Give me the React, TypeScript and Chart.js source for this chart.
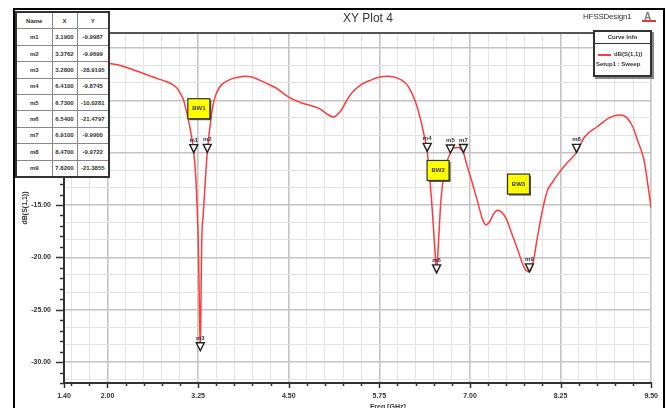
import React, { useEffect, useRef } from "react";
import { Chart, registerables } from "chart.js";
Chart.register(...registerables);

const FONT = "'Liberation Sans', Arial, sans-serif";

// S11 curve (frequency in GHz, value in dB)
const freqGHz = [
  2.0, 2.1, 2.2, 2.34, 2.46, 2.58, 2.7, 2.81, 2.9, 2.96, 3.01, 3.05, 3.08, 3.11, 3.14, 3.17,
  3.19, 3.22, 3.25, 3.265, 3.28, 3.29, 3.3, 3.32, 3.35, 3.3762, 3.43, 3.47, 3.54, 3.68, 3.8,
  3.91, 4.0, 4.09, 4.2, 4.32, 4.5, 4.68, 4.8, 4.91, 5.05, 5.12, 5.18, 5.23, 5.3, 5.37, 5.5,
  5.64, 5.74, 5.87, 6.01, 6.1, 6.15, 6.24, 6.31, 6.36, 6.41, 6.44, 6.47, 6.5, 6.52, 6.54,
  6.56, 6.6, 6.65, 6.68, 6.73, 6.77, 6.83, 6.91, 6.95, 7.02, 7.11, 7.17, 7.22, 7.27, 7.33,
  7.38, 7.44, 7.5, 7.56, 7.66, 7.75, 7.82, 7.87, 7.93, 8.0, 8.07, 8.14, 8.21, 8.35, 8.47,
  8.58, 8.76, 8.94, 9.07, 9.17, 9.25, 9.31, 9.4, 9.5,
];
const s11dB = [
  -1.44, -1.55, -1.72, -2.05, -2.35, -2.65, -2.95, -3.2, -3.5, -3.85, -4.4, -5.0, -5.8, -6.7, -7.7, -8.9,
  -9.9987, -12.6, -18.0, -23.4, -28.9195, -24.0, -18.4, -16.0, -12.6, -9.9699, -6.6, -5.0, -3.8, -3.05, -2.8,
  -2.7, -2.8, -3.05, -3.4, -3.8, -4.7, -5.25, -5.5, -5.75, -6.4, -6.6, -6.3, -5.9, -5.0, -4.3, -3.5,
  -3.05, -2.8, -2.7, -2.9, -3.3, -3.7, -5.0, -6.6, -8.1, -9.8745, -12.0, -14.5, -17.5, -19.6, -21.4797,
  -19.3, -14.5, -11.7, -10.9, -10.0281, -9.55, -9.5, -9.99, -11.0, -12.6, -14.8, -16.3, -16.9, -16.6, -15.8,
  -15.5, -15.7, -16.3, -17.4, -19.3, -21.0, -21.3855, -20.5, -18.1, -15.5, -13.6, -12.8, -12.1, -10.9, -9.9722,
  -8.5, -7.5, -6.6, -6.4, -6.7, -7.6, -8.8, -10.7, -15.3,
];

// Markers
const markerNames = ["m1", "m2", "m3", "m4", "m5", "m6", "m7", "m8", "m9"];
const markerX = [3.19, 3.3762, 3.28, 6.41, 6.73, 6.54, 6.91, 8.47, 7.82];
const markerY = [-9.9987, -9.9699, -28.9195, -9.8745, -10.0281, -21.4797, -9.99, -9.9722, -21.3855];

// Axis labels
const xLabelValues = [1.4, 2.0, 3.25, 4.5, 5.75, 7.0, 8.25, 9.5];
const yLabelValues = [-30, -25, -20, -15, -10, -5, 0];

// Band annotations
const bwNames = ["BW1", "BW2", "BW3"];
const bwAnchorX = [3.26, 6.56, 7.67];
const bwAnchorY = [-5.8, -11.7, -13.0];

const near = (a: number, b: number) => Math.abs(a - b) < 1e-6;
const isMult = (v: number, s: number) => near(v / s, Math.round(v / s));

const xTickValues: number[] = [1.4];
for (let k = 6; k <= 38; k++) xTickValues.push(k * 0.25);
const yTickValues: number[] = [];
for (let v = -32; v <= 1; v++) yTickValues.push(v);
for (let k = -19; k <= 0; k++) {
  const v = (k * 5) / 3;
  if (!yTickValues.some((t) => near(t, v))) yTickValues.push(v);
}
yTickValues.sort((a, b) => a - b);

const isXMajor = (v: number) => v >= 2 - 1e-6 && isMult(v - 2, 1.25);

const overlayPlugin = {
  id: "overlay",
  afterDraw(chart: any) {
    const { ctx, chartArea: a } = chart;
    const xs = chart.scales.x;
    const ys = chart.scales.y;
    ctx.save();
    // top border of plot
    ctx.strokeStyle = "#555";
    ctx.lineWidth = 2;
    ctx.beginPath();
    ctx.moveTo(a.left, a.top);
    ctx.lineTo(a.right + 2, a.top);
    ctx.stroke();

    // tick marks
    ctx.strokeStyle = "#333";
    ctx.lineWidth = 1.5;
    for (let v = -32; v <= 1; v++) {
      const py = Math.round(ys.getPixelForValue(v)) + 0.5;
      const len = v % 5 === 0 ? 8 : 4;
      ctx.beginPath();
      ctx.moveTo(a.left - len, py);
      ctx.lineTo(a.left, py);
      ctx.stroke();
    }
    for (const v of xTickValues) {
      const px = Math.round(xs.getPixelForValue(v)) + 0.5;
      const len = xLabelValues.some((l) => near(l, v)) ? 5 : 3;
      ctx.beginPath();
      ctx.moveTo(px, a.bottom);
      ctx.lineTo(px, a.bottom + len);
      ctx.stroke();
    }

    // axis titles
    ctx.fillStyle = "#333";
    ctx.font = `bold 7px ${FONT}`;
    ctx.textAlign = "left";
    ctx.textBaseline = "alphabetic";
    ctx.fillText("Freq [GHz]", 370, 409);
    ctx.save();
    ctx.translate(27, (a.top + a.bottom) / 2);
    ctx.rotate(-Math.PI / 2);
    ctx.textAlign = "center";
    ctx.fillText("dB(S(1,1))", 0, 0);
    ctx.restore();

    // markers
    markerNames.forEach((name, i) => {
      const px = xs.getPixelForValue(markerX[i]);
      const py = ys.getPixelForValue(markerY[i]);
      ctx.beginPath();
      ctx.moveTo(px, py);
      ctx.lineTo(px - 4, py - 8);
      ctx.lineTo(px + 4, py - 8);
      ctx.closePath();
      ctx.fillStyle = "#fff";
      ctx.fill();
      ctx.strokeStyle = "#222";
      ctx.lineWidth = 1.4;
      ctx.stroke();
      ctx.fillStyle = "#334";
      ctx.font = `bold 6px ${FONT}`;
      ctx.textAlign = "center";
      ctx.fillText(name, px, py - 11);
    });

    // BW boxes
    bwNames.forEach((name, i) => {
      const cx = xs.getPixelForValue(bwAnchorX[i]);
      const cy = ys.getPixelForValue(bwAnchorY[i]);
      const w = 22, h = 20;
      ctx.fillStyle = "#555";
      ctx.fillRect(cx - w / 2 + 1.5, cy - h / 2 + 1.5, w, h);
      ctx.fillStyle = "#ffff00";
      ctx.fillRect(cx - w / 2, cy - h / 2, w, h);
      ctx.strokeStyle = "#333";
      ctx.lineWidth = 1.2;
      ctx.strokeRect(cx - w / 2, cy - h / 2, w, h);
      ctx.fillStyle = "#333";
      ctx.font = `bold 6px ${FONT}`;
      ctx.textAlign = "center";
      ctx.textBaseline = "middle";
      ctx.fillText(name, cx, cy);
      ctx.textBaseline = "alphabetic";
    });
    ctx.restore();
  },
};

const cellStyle: React.CSSProperties = {
  border: "1.5px solid #888",
  padding: 0,
  textAlign: "center",
  height: 14,
  fontSize: 6,
  fontWeight: "bold",
  color: "#333",
  whiteSpace: "nowrap",
};

export default function App() {
  const ref = useRef<HTMLCanvasElement>(null);
  useEffect(() => {
    const chart = new Chart(ref.current as HTMLCanvasElement, {
      type: "line",
      data: {
        datasets: [
          {
            data: freqGHz.map((f, i) => ({ x: f, y: s11dB[i] })),
            borderColor: "#ff3b3b",
            borderWidth: 1.5,
            pointRadius: 0,
            cubicInterpolationMode: "monotone",
            fill: false,
          },
        ],
      },
      options: {
        responsive: false,
        animation: false,
        events: [],
        layout: { padding: { top: 33, right: 14, left: 0, bottom: 0 } },
        plugins: { legend: { display: false }, tooltip: { enabled: false }, title: { display: false } },
        scales: {
          x: {
            type: "linear",
            min: 1.4,
            max: 9.5,
            afterBuildTicks: (s: any) => {
              s.ticks = xTickValues.map((v) => ({ value: v }));
            },
            afterFit: (s: any) => {
              s.height = 25;
            },
            ticks: {
              autoSkip: false,
              maxRotation: 0,
              padding: 9,
              color: "#333",
              font: { size: 7, weight: "bold", family: FONT },
              callback: (v: any) => (xLabelValues.some((l) => near(l, Number(v))) ? Number(v).toFixed(2) : ""),
            },
            grid: {
              drawTicks: false,
              color: (c: any) => {
                const v = c.tick ? c.tick.value : 0;
                if (near(v, 1.4)) return "rgba(0,0,0,0)";
                return isXMajor(v) ? "#c4c4c4" : "#e4e4e4";
              },
              lineWidth: (c: any) => (c.tick && isXMajor(c.tick.value) ? 1.6 : 1),
            },
            border: { color: "#333", width: 2 },
          },
          y: {
            type: "linear",
            min: -32,
            max: 1.43,
            afterBuildTicks: (s: any) => {
              s.ticks = yTickValues.map((v) => ({ value: v }));
            },
            afterFit: (s: any) => {
              s.width = 64;
            },
            ticks: {
              autoSkip: false,
              padding: 13,
              color: "#333",
              font: { size: 7, weight: "bold", family: FONT },
              callback: (v: any) => (yLabelValues.some((l) => near(l, Number(v))) ? Number(v).toFixed(2) : ""),
            },
            grid: {
              drawTicks: false,
              color: (c: any) => {
                const v = c.tick ? c.tick.value : 0;
                if (isMult(v, 5)) return "#c4c4c4";
                if (isMult(v, 5 / 3)) return "#e4e4e4";
                return "rgba(0,0,0,0)";
              },
              lineWidth: (c: any) => (c.tick && isMult(c.tick.value, 5) ? 1.6 : 1),
            },
            border: { color: "#333", width: 2 },
          },
        },
      },
      plugins: [overlayPlugin],
    } as any);
    return () => chart.destroy();
  }, []);

  return (
    <div
      style={{
        position: "fixed",
        left: 0,
        top: 0,
        width: 667,
        height: 408,
        overflow: "hidden",
        background: "#fff",
        fontFamily: FONT,
      }}
    >
      <canvas ref={ref} width={667} height={408} style={{ position: "absolute", left: 0, top: 0, width: 667, height: 408 }} />
      {/* outer frame */}
      <div
        style={{
          position: "absolute",
          left: 13,
          top: 8,
          width: 648,
          height: 420,
          border: "2px solid #000",
          borderBottom: "none",
          pointerEvents: "none",
        }}
      />
      {/* title */}
      <div style={{ position: "absolute", left: 318, top: 11, width: 100, textAlign: "center", fontSize: 12, color: "#333" }}>
        XY Plot 4
      </div>
      <div style={{ position: "absolute", left: 583, top: 12, fontSize: 8, color: "#333", letterSpacing: -0.2 }}>HFSSDesign1</div>
      <div style={{ position: "absolute", left: 644, top: 11, fontSize: 10, fontWeight: "bold", color: "#777", lineHeight: "12px" }}>
        A
      </div>
      <div style={{ position: "absolute", left: 642, top: 20, width: 14, height: 2, background: "#e33" }} />
      {/* curve info */}
      <div
        style={{
          position: "absolute",
          left: 593,
          top: 30,
          width: 55,
          height: 43,
          border: "2px solid #333",
          background: "#fff",
          boxShadow: "2px 2px 0 #888",
          fontSize: 6,
          color: "#333",
          fontWeight: "bold",
        }}
      >
        <div style={{ height: 11, lineHeight: "11px", textAlign: "center", borderBottom: "1.5px solid #333" }}>Curve Info</div>
        <div style={{ position: "absolute", left: 3, top: 22, width: 13, height: 1.5, background: "#ff3b3b" }} />
        <div style={{ position: "absolute", left: 19, top: 19, whiteSpace: "nowrap" }}>dB(S(1,1))</div>
        <div style={{ position: "absolute", left: 1, top: 29, whiteSpace: "nowrap" }}>Setup1 : Sweep</div>
      </div>
      {/* marker table */}
      <table
        style={{
          position: "absolute",
          left: 15,
          top: 11,
          width: 93,
          height: 167,
          borderCollapse: "collapse",
          border: "2px solid #333",
          background: "#fff",
          tableLayout: "fixed",
        }}
      >
        <colgroup>
          <col style={{ width: 36 }} />
          <col style={{ width: 25 }} />
          <col style={{ width: 32 }} />
        </colgroup>
        <tbody>
          <tr>
            <td style={cellStyle}>Name</td>
            <td style={cellStyle}>X</td>
            <td style={cellStyle}>Y</td>
          </tr>
          {markerNames.map((n, i) => (
            <tr key={n}>
              <td style={cellStyle}>{n}</td>
              <td style={cellStyle}>{markerX[i].toFixed(4)}</td>
              <td style={cellStyle}>{markerY[i].toFixed(4)}</td>
            </tr>
          ))}
        </tbody>
      </table>
    </div>
  );
}
